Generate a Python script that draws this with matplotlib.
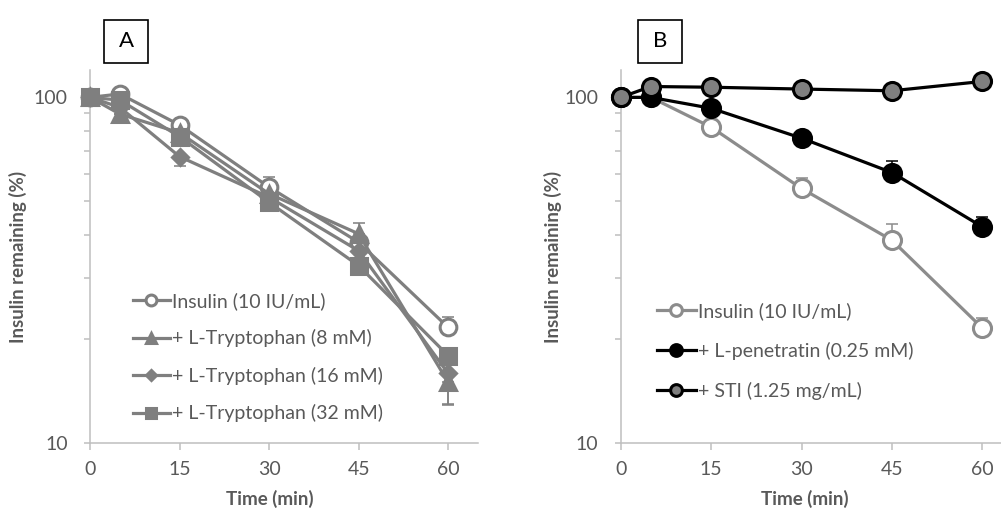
import numpy as np
import matplotlib
matplotlib.use("Agg")
import matplotlib.pyplot as plt
from matplotlib.patches import Rectangle
from matplotlib.ticker import LogLocator, NullFormatter, FixedLocator, FixedFormatter

plt.rcParams['font.family'] = ['Lato', 'DejaVu Sans']

time_min = [0, 5, 15, 30, 45, 60]

# panel A: insulin alone and with L-tryptophan
ins_a = [100, 102.3, 83.2, 55.0, 38.1, 21.6]
trp8 = [100, 89.5, 79.0, 52.6, 40.3, 15.0]
trp16 = [100, 93.6, 67.4, 51.4, 36.0, 15.9]
trp32 = [100, 98.2, 77.0, 49.7, 32.6, 17.9]
ins_a_up = [0, 0, 0, 3.7, 0, 1.5]
trp8_up = [0, 0, 0, 0, 3.0, 0]
trp8_dn = [0, 0, 0, 0, 0, 2.1]
trp16_dn = [0, 0, 4.0, 0, 0, 2.9]

# panel B: insulin alone, with L-penetratin, with STI
ins_b = [100, 100, 82.0, 54.5, 38.6, 21.5]
pen = [100, 100, 93.0, 76.2, 60.6, 42.2]
sti = [100, 107.5, 107.0, 105.7, 104.5, 111.2]
ins_b_up = [0, 0, 0, 3.8, 4.4, 1.5]
pen_up = [0, 0, 0, 0, 4.9, 2.9]

labels_a = ["Insulin (10 IU/mL)", "+ L-Tryptophan (8 mM)",
            "+ L-Tryptophan (16 mM)", "+ L-Tryptophan (32 mM)"]
labels_b = ["Insulin (10 IU/mL)", "+ L-penetratin (0.25 mM)",
            "+ STI (1.25 mg/mL)"]

txt = "#595959"
axc = "#bfbfbf"
grey = "#7f7f7f"

fig = plt.figure(figsize=(10.01, 5.14), dpi=100)
ax_a = fig.add_axes([0.0899, 0.1381, 0.3876, 0.7257])
ax_b = fig.add_axes([0.6201, 0.1381, 0.3914, 0.7257])


def style_axis(ax):
    ax.set_yscale("log")
    ax.set_ylim(10, 120)
    ax.set_xlim(0, 65)
    for s in ["top", "right"]:
        ax.spines[s].set_visible(False)
    for s in ["left", "bottom"]:
        ax.spines[s].set_color(axc)
        ax.spines[s].set_linewidth(1.1)
    ax.xaxis.set_major_locator(FixedLocator([0, 15, 30, 45, 60]))
    ax.yaxis.set_major_locator(FixedLocator([10, 100]))
    ax.yaxis.set_major_formatter(FixedFormatter(["10", "100"]))
    ax.yaxis.set_minor_locator(LogLocator(base=10, subs=np.arange(2, 10)))
    ax.yaxis.set_minor_formatter(NullFormatter())
    ax.tick_params(axis="y", which="major", length=4, width=1.1, color=axc,
                   labelsize=14, labelcolor=txt, pad=12)
    ax.tick_params(axis="y", which="minor", length=4, width=1.1, color=axc)
    ax.tick_params(axis="x", which="major", length=5, width=1.1, color=axc,
                   labelsize=14, labelcolor=txt, pad=8)
    ax.set_xlabel("Time (min)", fontsize=13.5, color=txt, fontweight="bold")
    ax.set_ylabel("Insulin remaining (%)", fontsize=13.5, color=txt,
                  fontweight="bold")
    ax.patch.set_visible(False)


def series(ax, y, lo, hi, color, marker, ms, mfc, mec, lw, label, z):
    yerr = np.array([lo, hi], dtype=float)
    ax.errorbar(time_min, y, yerr=yerr, fmt="none", ecolor=color,
                elinewidth=1.1, capsize=4.5, capthick=1.1, zorder=z,
                clip_on=False)
    ax.plot(time_min, y, color=color, lw=lw, marker=marker, ms=ms, mfc=mfc,
            mec=mec, mew=2.2, label=label, zorder=z, clip_on=False)


zeros = [0] * 6
series(ax_a, ins_a, zeros, ins_a_up, grey, "o", 12, "white", grey, 2.3, labels_a[0], 3)
series(ax_a, trp8, trp8_dn, trp8_up, grey, "^", 12, grey, grey, 2.3, labels_a[1], 4)
series(ax_a, trp16, trp16_dn, zeros, grey, "D", 8, grey, grey, 2.3, labels_a[2], 5)
series(ax_a, trp32, zeros, zeros, grey, "s", 12, grey, grey, 2.3, labels_a[3], 6)

series(ax_b, ins_b, zeros, ins_b_up, "#8c8c8c", "o", 13, "white", "#8c8c8c", 2.3, labels_b[0], 3)
series(ax_b, pen, zeros, pen_up, "black", "o", 13, "black", "black", 2.3, labels_b[1], 4)
series(ax_b, sti, zeros, zeros, "black", "o", 13, grey, "black", 2.3, labels_b[2], 5)

for ax in (ax_a, ax_b):
    style_axis(ax)

leg_kw = dict(frameon=False, fontsize=14, labelcolor=txt,
              handletextpad=0.1, markerscale=0.65, borderaxespad=0, borderpad=0)
ax_a.legend(loc="upper left", bbox_to_anchor=(0.11, 0.405), labelspacing=1.0,
            handlelength=1.9, **leg_kw)
ax_b.legend(loc="upper left", bbox_to_anchor=(0.092, 0.378), labelspacing=1.12,
            handlelength=2.0, **leg_kw)

ax_a.yaxis.set_label_coords(-0.162, 0.5)
ax_b.yaxis.set_label_coords(-0.15, 0.5)
ax_a.xaxis.set_label_coords(0.464, -0.126)
ax_b.xaxis.set_label_coords(0.47, -0.126)

# panel letters in boxes
for cx, letter in [(0.1259, "A"), (0.6593, "B")]:
    w, h = 44 / 1001, 43 / 514
    fig.patches.append(Rectangle((cx - w / 2, 0.9202 - h / 2), w, h,
                                 transform=fig.transFigure, fill=False,
                                 edgecolor="black", lw=1.2))
    fig.text(cx, 0.9202, letter, ha="center", va="center", fontsize=16,
             color="black")

fig.savefig("out.png", dpi=100)
